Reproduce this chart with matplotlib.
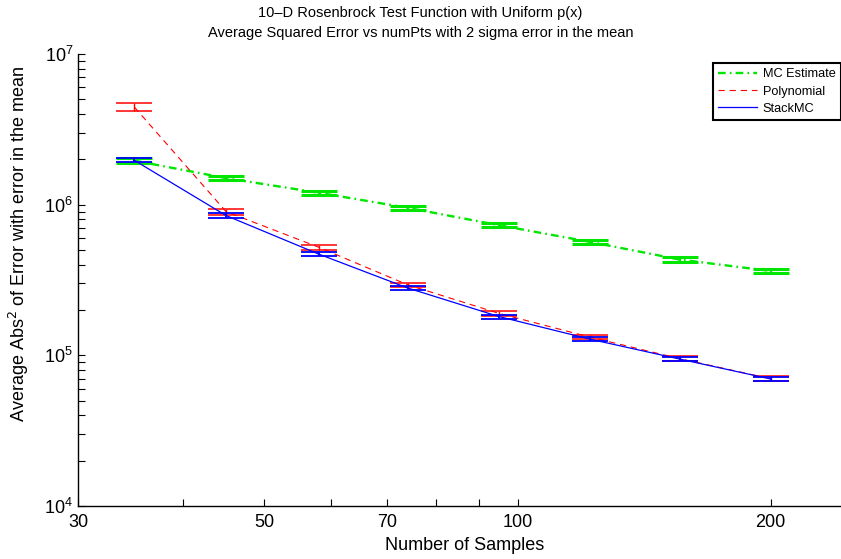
import matplotlib
matplotlib.use('Agg')
import matplotlib.pyplot as plt
from matplotlib.lines import Line2D
from matplotlib.ticker import FixedLocator, NullFormatter, FixedFormatter, LogLocator
import numpy as np

plt.rcParams['font.family'] = ['Liberation Sans', 'DejaVu Sans']
plt.rcParams['lines.scale_dashes'] = False

# data
num_pts = [35, 45, 58, 74, 95, 122, 156, 200]
mc_est = [1.96e6, 1.50e6, 1.20e6, 9.53e5, 7.31e5, 5.66e5, 4.32e5, 3.63e5]
mc_err = [6.5e4, 5.0e4, 4.0e4, 3.2e4, 2.5e4, 1.9e4, 1.5e4, 1.25e4]
poly = [4.45e6, 9.0e5, 5.22e5, 2.94e5, 1.90e5, 1.32e5, 9.5e4, 7.0e4]
poly_err = [2.6e5, 4.0e4, 2.0e4, 1.0e4, 6.5e3, 4.5e3, 3.3e3, 2.5e3]
stack = [1.97e6, 8.47e5, 4.70e5, 2.80e5, 1.81e5, 1.28e5, 9.44e4, 6.97e4]
stack_err = [6.0e4, 2.7e4, 1.5e4, 8.5e3, 5.5e3, 4.0e3, 3.0e3, 2.2e3]

xticks = [30, 40, 50, 60, 70, 80, 90, 100, 200]
xticklabels = ['30', '', '50', '', '70', '', '', '100', '200']

fig = plt.figure(figsize=(8.41, 5.59), dpi=100)
W, H = 841, 559
left, right, bottom, top = 78, 852, 506, 54
ax = fig.add_axes([left / W, 1 - bottom / H, (right - left) / W, (bottom - top) / H])

ax.set_xscale('log')
ax.set_yscale('log')

green = (0, 0.9, 0)
mc_ls = (0, (5.5, 3.0, 1.2, 3.0))
poly_ls = (0, (4.5, 3.5))

ax.errorbar(num_pts, mc_est, yerr=mc_err, color=green, linestyle=mc_ls, linewidth=1.7,
            capsize=13, capthick=2.2, elinewidth=1.7, zorder=2)
ax.errorbar(num_pts, poly, yerr=poly_err, color='red', linestyle=poly_ls, linewidth=0.8,
            capsize=13, capthick=1.1, elinewidth=1.0, zorder=3)
ax.errorbar(num_pts, stack, yerr=stack_err, color='blue', linestyle='-', linewidth=0.9,
            capsize=13, capthick=1.3, elinewidth=1.3, zorder=4)

ax.set_xlim(30, 250)
ax.set_ylim(1e4, 1e7)

ax.xaxis.set_major_locator(FixedLocator(xticks))
ax.xaxis.set_major_formatter(FixedFormatter(xticklabels))
ax.xaxis.set_minor_locator(FixedLocator([]))
ax.yaxis.set_major_locator(LogLocator(base=10))
ax.yaxis.set_minor_locator(LogLocator(base=10, subs=np.arange(2, 10)))
ax.yaxis.set_minor_formatter(NullFormatter())

ax.tick_params(which='both', direction='in', length=5, width=0.8, labelsize=13, colors='black')
ax.tick_params(axis='x', pad=6)
ax.spines['top'].set_visible(False)
ax.spines['right'].set_visible(False)
for s in ('left', 'bottom'):
    ax.spines[s].set_linewidth(1.0)

ax.set_xlabel('Number of Samples', fontsize=13)
ax.set_ylabel('Average Abs$^2$ of Error with error in the mean', fontsize=13)
ax.yaxis.set_label_coords(-0.061, (bottom - 244) / (bottom - top))
fig.text(0.5, 1 - 13 / H, '10\u2013D Rosenbrock Test Function with Uniform p(x)',
         ha='center', va='center', fontsize=10.5)
fig.text(0.5, 1 - 33 / H, 'Average Squared Error vs numPts with 2 sigma error in the mean',
         ha='center', va='center', fontsize=10.5)

handles = [Line2D([], [], color=green, linestyle=mc_ls, linewidth=1.7),
           Line2D([], [], color='red', linestyle=poly_ls, linewidth=0.8),
           Line2D([], [], color='blue', linestyle='-', linewidth=0.9)]
labels = ['MC Estimate', 'Polynomial', 'StackMC']
leg = ax.legend(handles, labels, loc='upper left', bbox_to_anchor=(712.7 / W, 1 - 63.3 / H),
                bbox_transform=fig.transFigure, fontsize=9.2, frameon=True, fancybox=False,
                handlelength=3.1, borderpad=0.4, labelspacing=0.4, handletextpad=0.4,
                borderaxespad=0)
leg.get_frame().set_edgecolor('black')
leg.get_frame().set_linewidth(1.5)
leg.get_frame().set_alpha(1)

fig.savefig('out.png', dpi=100)
